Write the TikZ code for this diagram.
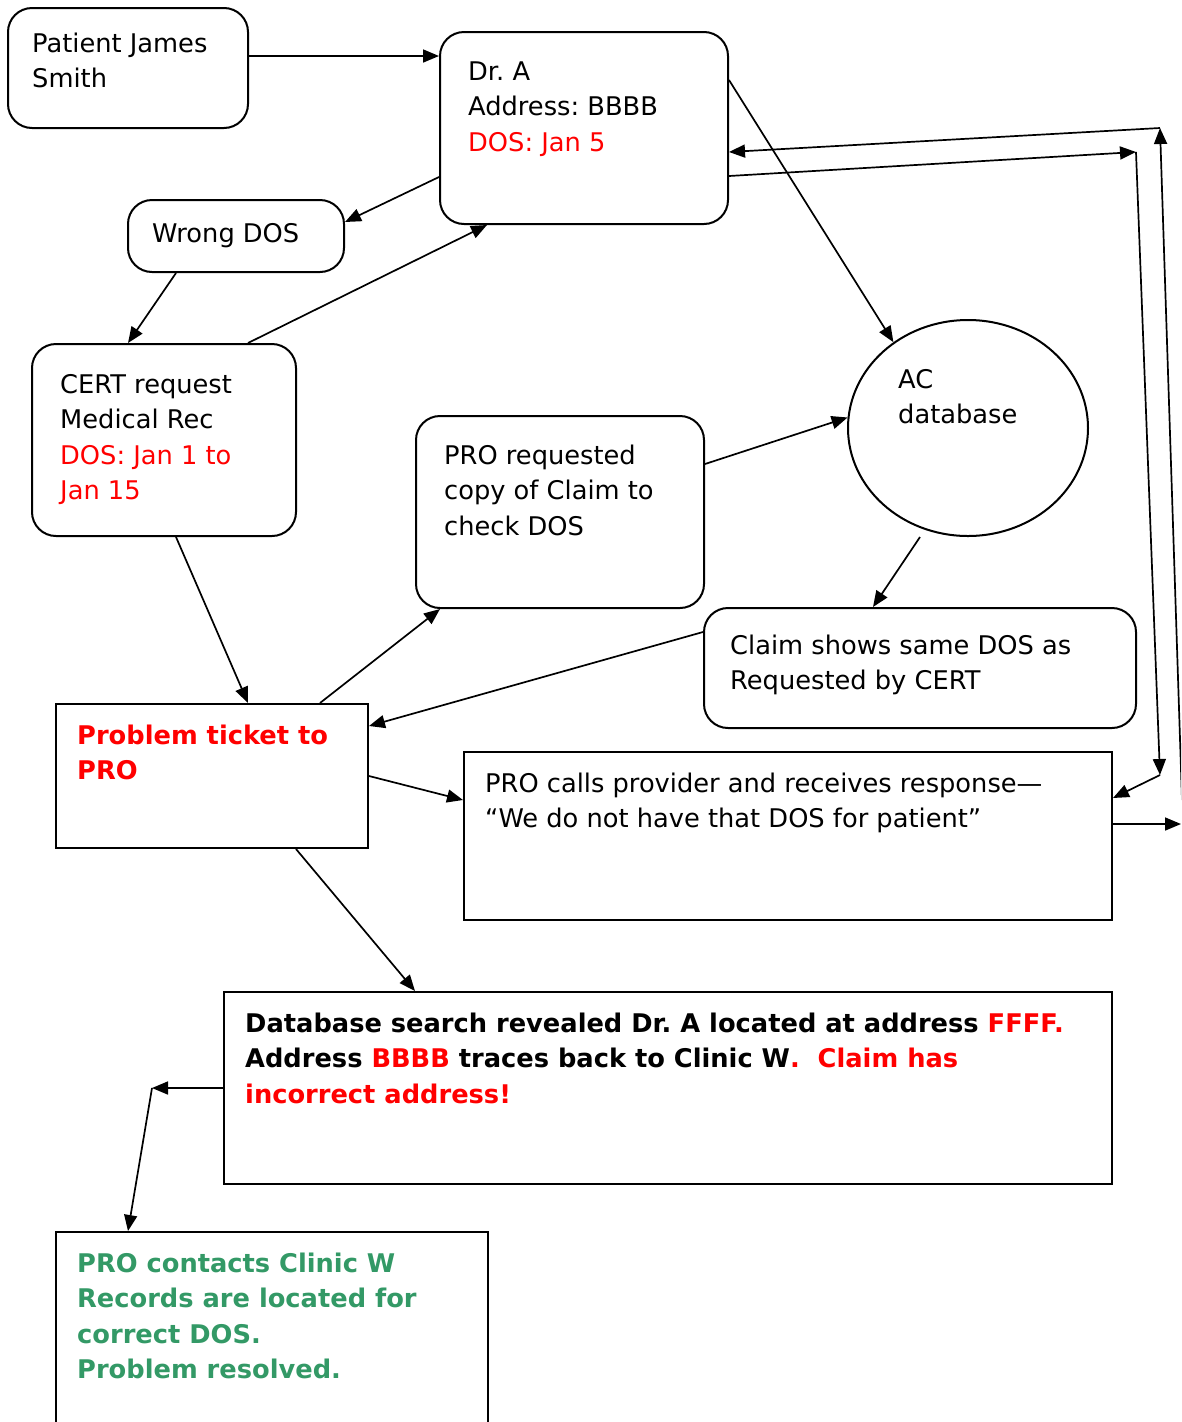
\documentclass[tikz,border=0pt]{standalone}
\usepackage{fontspec}
\setmainfont{DejaVu Sans}
\usetikzlibrary{arrows.meta, shapes.geometric}
\definecolor{okgreen}{RGB}{51,153,102}
\frenchspacing
\tikzset{
	vbox/.style n args={2}{
		draw, rectangle, inner sep=0pt,
		minimum width={#1}, minimum height={#2},
		line width = 2pt
	},
	rvbox/.style n args={2}{
		vbox={#1}{#2}, rounded corners=24pt
	},
	txt/.style={
		anchor=base west, align=left, inner sep=0pt,
		font=\fontsize{25.7}{35.5}\selectfont\frenchspacing
	},
	arc/.style={
		-{Triangle[length=16pt,width=13pt]},
		line width = 1.7pt
	}
}
\begin{document}
\begin{tikzpicture}[yscale=-1, x=1pt, y=1pt]
\useasboundingbox (0,0) rectangle (1181,1422);
\clip (0,0) rectangle (1181,1422);
\node[rvbox={240}{120}] (v0) at ( 128, 68 ) {};
\node[rvbox={288}{192}] (v1) at ( 584, 128 ) {};
\node[rvbox={216}{72}] (v2) at ( 236, 236 ) {};
\node[rvbox={264}{192}] (v3) at ( 164, 440 ) {};
\node[rvbox={288}{192}] (v4) at ( 560, 512 ) {};
\node[draw, ellipse, line width = 2pt, minimum width=240, minimum height=216, inner sep=0pt] (v5) at ( 968, 428 ) {};
\node[rvbox={432}{120}] (v6) at ( 920, 668 ) {};
\node[vbox={312}{144}] (v7) at ( 212, 776 ) {};
\node[vbox={648}{168}] (v8) at ( 788, 836 ) {};
\node[vbox={888}{192}] (v9) at ( 668, 1088 ) {};
\node[vbox={432}{220}] (v10) at ( 272, 1342 ) {};
\node[txt] (t0) at ( 32, 87.5 ) {Patient James\\Smith};
\node[txt] (t1) at ( 468, 151 ) {Dr. A\\Address: BBBB\\\textcolor{red}{DOS: Jan 5}};
\node[txt] (t2) at ( 152, 242 ) {Wrong DOS};
\node[txt] (t3) at ( 60, 499.5 ) {CERT request\\Medical Rec\\\textcolor{red}{DOS: Jan 1 to}\\\textcolor{red}{Jan 15}};
\node[txt] (t4) at ( 444, 535 ) {PRO requested\\copy of Claim to\\check DOS};
\node[txt] (t5) at ( 898, 423.5 ) {AC\\database};
\node[txt] (t6) at ( 730, 689.5 ) {Claim shows same DOS as\\Requested by CERT};
\node[txt, font=\fontsize{25.7}{35.5}\selectfont\bfseries, text=red] (t7) at ( 77, 779.5 ) {Problem ticket to\\PRO};
\node[txt] (t8) at ( 485, 827.5 ) {PRO calls provider and receives response---\\``We do not have that DOS for patient''};
\node[txt, font=\fontsize{25.7}{35.5}\selectfont\bfseries\frenchspacing] (t9) at ( 245, 1103 ) {Database search revealed Dr. A located at address \textcolor{red}{FFFF.}\\Address \textcolor{red}{BBBB} traces back to Clinic W\textcolor{red}{.~ Claim has}\\\textcolor{red}{incorrect address!}};
\node[txt, font=\fontsize{25.7}{35.5}\selectfont\bfseries, text=okgreen] (t10) at ( 77, 1378.5 ) {PRO contacts Clinic W\\Records are located for\\correct DOS.\\Problem resolved.};
\coordinate (c0) at ( 1136, 152 );
\coordinate (c1) at ( 1160, 775 );
\coordinate (c2) at ( 1182, 800 );
\coordinate (c3) at ( 1160, 128 );
\coordinate (c4) at ( 1181, 824 );
\coordinate (c5) at ( 152, 1088 );
\draw[arc] (v0.east |- 0,56) -- (v1.west |- 0,56);
\draw[arc] (v1.west |- 0,177) -- (v2.east |- 0,222);
\draw[arc] (v2.south -| 176,0) -- (v3.north -| 128,0);
\draw[arc] (v3.north -| 248,0) -- (v1.south -| 487,0);
\draw[arc] (v1.east |- 0,80) -- (v5.131);
\draw[arc] (v1.east |- 0,176) -- (c0);
\draw[arc] (c0) -- (c1);
\draw[arc] (c1) -- (v8.east |- 0,798);
\draw[arc] (c2) -- (c3);
\draw[arc] (c3) -- (v1.east |- 0,152);
\draw[arc] (v5.south -| 920,0) -- (v6.north -| 873,0);
\draw[arc] (v4.east |- 0,464) -- (v5.175);
\draw[arc] (v6.west |- 0,632) -- (v7.east |- 0,726);
\draw[arc] (v7.north -| 320,0) -- (v4.south -| 440,0);
\draw[arc] (v3.south -| 176,0) -- (v7.north -| 248,0);
\draw[arc] (v7.east |- 0,776) -- (v8.west |- 0,800);
\draw[arc] (v8.east |- 0,824) -- (c4);
\draw[arc] (v7.south -| 296,0) -- (v9.north -| 415,0);
\draw[arc] (v9.west |- 0,1088) -- (c5);
\draw[arc] (c5) -- (v10.north -| 128,0);
\end{tikzpicture}
\end{document}
